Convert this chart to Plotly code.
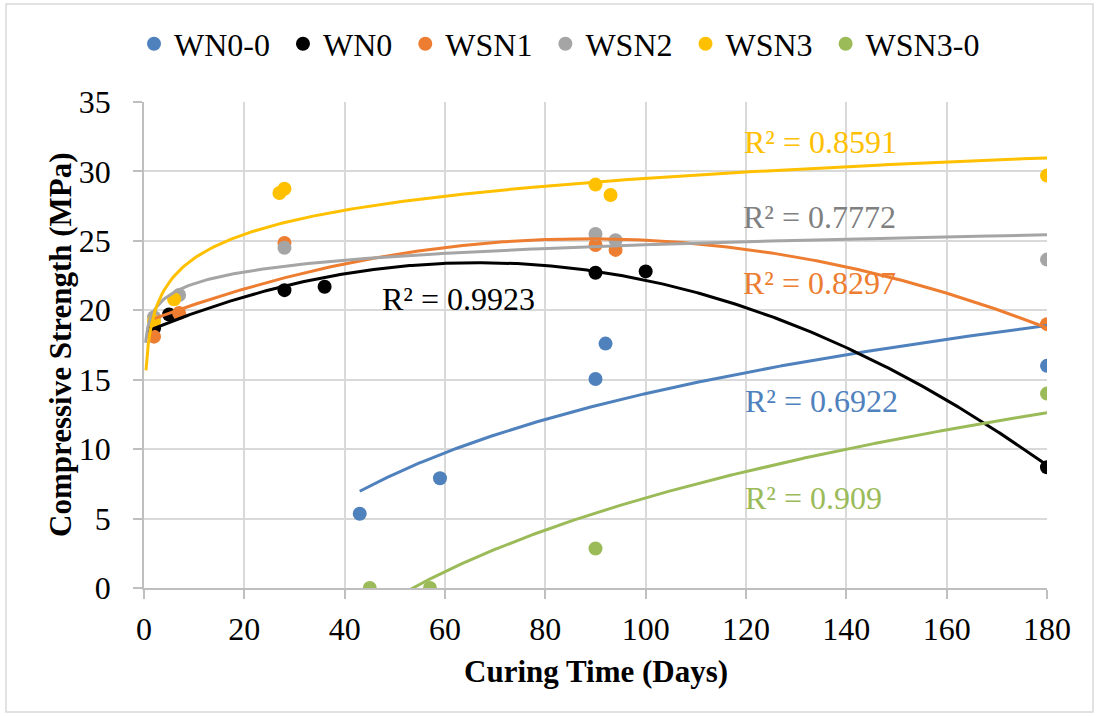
import numpy as np
import plotly.graph_objects as go

# ---------------- data ----------------
series_names = ["WN0-0", "WN0", "WSN1", "WSN2", "WSN3", "WSN3-0"]
series_colors = ["#4F81BD", "#000000", "#ED7D31", "#A5A5A5", "#FFC000", "#9BBB59"]
label_colors = ["#4F81BD", "#000000", "#ED7D31", "#808080", "#FFC000", "#9BBB59"]

wn00_days = [43, 59, 90, 92, 180]
wn00_mpa = [5.35, 7.9, 15.05, 17.6, 16.0]

wn0_days = [2, 5, 28, 36, 90, 100, 180]
wn0_mpa = [18.7, 19.7, 21.45, 21.7, 22.7, 22.8, 8.7]

wsn1_days = [2, 7, 28, 90, 94, 180]
wsn1_mpa = [18.1, 19.8, 24.85, 24.7, 24.35, 19.0]

wsn2_days = [2, 7, 28, 90, 94, 180]
wsn2_mpa = [19.5, 21.1, 24.5, 25.5, 25.05, 23.65]

wsn3_days = [2, 6, 27, 28, 90, 93, 180]
wsn3_mpa = [19.2, 20.8, 28.45, 28.75, 29.05, 28.3, 29.7]

wsn30_days = [45, 57, 90, 180]
wsn30_mpa = [0.0, 0.0, 2.85, 14.0]

trend_types = ["log", "poly2", "poly2", "log", "log", "log"]
trend_start = [43, 1.5, 2, 0.3, 0.4, 45]
r2_texts = ["R² = 0.6922", "R² = 0.9923", "R² = 0.8297", "R² = 0.7772", "R² = 0.8591", "R² = 0.909"]
r2_x = [135.0, 62.6, 134.6, 134.6, 134.9, 133.5]
r2_y = [13.5, 20.8, 21.93, 26.73, 32.09, 6.5]

x_title = "Curing Time (Days)"
y_title = "Compressive Strength (MPa)"

all_days = [wn00_days, wn0_days, wsn1_days, wsn2_days, wsn3_days, wsn30_days]
all_mpa = [wn00_mpa, wn0_mpa, wsn1_mpa, wsn2_mpa, wsn3_mpa, wsn30_mpa]

FONT = "Liberation Serif"
NBSP = "\u00a0"

fig = go.Figure()

# markers
n = len(series_names)
for i, (name, color, xs, ys) in enumerate(zip(series_names, series_colors, all_days, all_mpa)):
    label = name + (NBSP if i < n - 1 else "")
    fig.add_trace(go.Scatter(
        x=xs, y=ys, mode="markers", name=label,
        marker=dict(color=color, size=14, line=dict(width=0)),
    ))

# trendlines (fitted from the data)
for color, xs, ys, ttype, x0 in zip(series_colors, all_days, all_mpa, trend_types, trend_start):
    xs = np.asarray(xs, float)
    ys = np.asarray(ys, float)
    xt = np.linspace(x0, 180, 400)
    if ttype == "log":
        a, b = np.polyfit(np.log(xs), ys, 1)
        yt = a * np.log(xt) + b
    else:
        c = np.polyfit(xs, ys, 2)
        yt = np.polyval(c, xt)
    fig.add_trace(go.Scatter(
        x=xt, y=yt, mode="lines", showlegend=False, hoverinfo="skip",
        line=dict(color=color, width=3),
    ))

for txt, col, xx, yy in zip(r2_texts, label_colors, r2_x, r2_y):
    fig.add_annotation(x=xx, y=yy, xref="x", yref="y", text=txt, showarrow=False,
                       font=dict(family=FONT, size=32, color=col),
                       xanchor="center", yanchor="middle")

# layout geometry (pixels)
L, R, T, B = 144, 52, 102, 129
W, H = 1099, 717
pw, ph = W - L - R, H - T - B
def px2x(p):
    return (p - L) / pw
def px2y(p):
    return (H - B - p) / ph

# axis titles
fig.add_annotation(x=0.5, y=px2y(671), xref="paper", yref="paper", text="<b>" + x_title + "</b>",
                   showarrow=False, xanchor="center", yanchor="middle",
                   font=dict(family=FONT, size=31, color="#000000"))
fig.add_annotation(x=px2x(60), y=0.5, xref="paper", yref="paper", text="<b>" + y_title + "</b>",
                   showarrow=False, xanchor="center", yanchor="middle", textangle=-90,
                   font=dict(family=FONT, size=31, color="#000000"))

# chart-area border
fig.add_shape(type="rect", xref="paper", yref="paper",
              x0=px2x(6), x1=px2x(1093), y0=px2y(712), y1=px2y(4),
              line=dict(color="#D9D9D9", width=1.5), fillcolor="rgba(0,0,0,0)", layer="below")

fig.update_layout(
    width=W, height=H,
    margin=dict(l=L, r=R, t=T, b=B),
    paper_bgcolor="white", plot_bgcolor="white",
    font=dict(family=FONT, size=32, color="#000000"),
    showlegend=True,
    legend=dict(orientation="h", xref="container", yref="container",
                x=134 / W, xanchor="left", y=1 - 44 / H, yanchor="middle",
                font=dict(family=FONT, size=32), itemwidth=30,
                bgcolor="rgba(0,0,0,0)"),
)
fig.update_xaxes(
    range=[0, 180], dtick=20, tick0=0,
    showgrid=True, gridcolor="#D9D9D9", gridwidth=1.5,
    showline=True, linecolor="#BFBFBF", linewidth=1.5,
    ticks="outside", ticklen=9, tickcolor="#BFBFBF", tickwidth=1.5,
    zeroline=False, tickfont=dict(family=FONT, size=32), ticklabelstandoff=3,
)
fig.update_yaxes(
    range=[0, 35], dtick=5, tick0=0,
    showgrid=True, gridcolor="#D9D9D9", gridwidth=1.5,
    showline=True, linecolor="#BFBFBF", linewidth=1.5,
    ticks="outside", ticklen=9, tickcolor="#BFBFBF", tickwidth=1.5,
    zeroline=False, tickfont=dict(family=FONT, size=32), ticklabelstandoff=16,
)

fig.write_html("out.html")
